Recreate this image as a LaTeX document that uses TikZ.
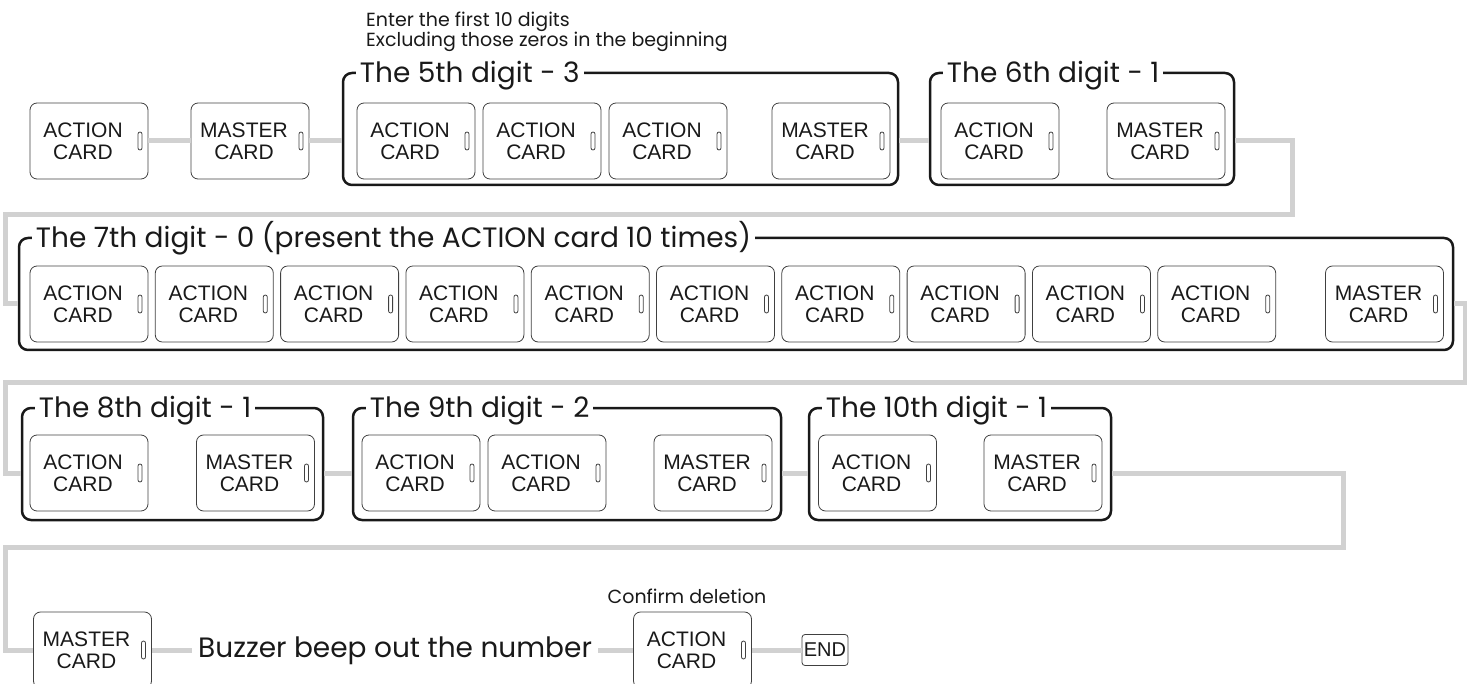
\documentclass[tikz,border=0pt]{standalone}
\usepackage{fontspec}
\setmainfont{Liberation Sans}
\newfontfamily\titlefont{Poppins}
\newcommand\cardpad{\makebox[12pt]{}}
\tikzset{
  card/.style={draw=black!75, line width=0.8pt, rounded corners=7pt,
    minimum width=118pt, minimum height=76pt, inner sep=0pt, align=center,
    text=black!90, font=\fontsize{21}{22}\selectfont,
    path picture={\draw[black!75, line width=0.8pt, rounded corners=2pt]
      ([xshift=-10pt,yshift=-9pt]path picture bounding box.east) rectangle
      ([xshift=-6pt,yshift=9pt]path picture bounding box.east);}},
  group/.style={draw=black!90, line width=2.5pt, rounded corners=9pt,
    minimum height=112pt, inner sep=0pt},
  title/.style={fill=white, inner sep=4pt, text=black!90, anchor=base west,
    font=\titlefont\fontsize{28}{30}\selectfont},
  note/.style={inner sep=0pt, text=black!90,
    font=\titlefont\fontsize{19}{20}\selectfont},
  link/.style={draw=black!18, line width=5pt},
  endbox/.style={draw=black!75, line width=0.8pt, rounded corners=3pt,
    minimum width=46pt, minimum height=31pt, inner sep=0pt,
    text=black!90, font=\fontsize{20}{22}\selectfont}
}
\begin{document}
\begin{tikzpicture}[x=1pt,y=-1pt]
  \clip (0,0) rectangle (1467,684);
  % groups
  \node[group, minimum width=555pt] (g5) at (620.5,129) {};
  \node[group, minimum width=304pt] (g6) at (1082,129) {};
  \node[group, minimum width=1434pt] (g7) at (736,294) {};
  \node[group, minimum width=301pt] (g8) at (172.5,464) {};
  \node[group, minimum width=428pt] (g9) at (567,464) {};
  \node[group, minimum width=302pt] (g10) at (960,464) {};
  \node[title] (t5) at ([xshift=14pt,yshift=-11pt]g5.north west) {The 5th digit - 3};
  \node[title] (t6) at ([xshift=14pt,yshift=-11pt]g6.north west) {The 6th digit - 1};
  \node[title] (t7) at ([xshift=14pt,yshift=-11pt]g7.north west) {The 7th digit - 0 (present the ACTION card 10 times)};
  \node[title] (t8) at ([xshift=14pt,yshift=-11pt]g8.north west) {The 8th digit - 1};
  \node[title] (t9) at ([xshift=14pt,yshift=-11pt]g9.north west) {The 9th digit - 2};
  \node[title] (t10) at ([xshift=14pt,yshift=-11pt]g10.north west) {The 10th digit - 1};
  \node[note, align=left, anchor=north west] (enter) at (366,12)
    {Enter the first 10 digits\\Excluding those zeros in the beginning};

  % row 1
  \node[card] (a0) at (89,141) {ACTION\cardpad\\CARD\cardpad};
  \node[card] (m0) at (250,141) {MASTER\cardpad\\CARD\cardpad};
  \node[card] (a1) at (416,141) {ACTION\cardpad\\CARD\cardpad};
  \node[card] (a2) at (542,141) {ACTION\cardpad\\CARD\cardpad};
  \node[card] (a3) at (668,141) {ACTION\cardpad\\CARD\cardpad};
  \node[card] (m1) at (831,141) {MASTER\cardpad\\CARD\cardpad};
  \node[card] (a4) at (1000,141) {ACTION\cardpad\\CARD\cardpad};
  \node[card] (m2) at (1166,141) {MASTER\cardpad\\CARD\cardpad};
  % row 2
  \foreach \i in {0,...,9}
    \node[card] (b\i) at (89+125.3*\i,304) {ACTION\cardpad\\CARD\cardpad};
  \node[card] (m3) at (1384.5,304) {MASTER\cardpad\\CARD\cardpad};
  % row 3
  \node[card] (a5) at (89,473) {ACTION\cardpad\\CARD\cardpad};
  \node[card] (m4) at (255.5,473) {MASTER\cardpad\\CARD\cardpad};
  \node[card] (a6) at (421,473) {ACTION\cardpad\\CARD\cardpad};
  \node[card] (a7) at (547,473) {ACTION\cardpad\\CARD\cardpad};
  \node[card] (m5) at (713,473) {MASTER\cardpad\\CARD\cardpad};
  \node[card] (a8) at (877.5,473) {ACTION\cardpad\\CARD\cardpad};
  \node[card] (m6) at (1043,473) {MASTER\cardpad\\CARD\cardpad};
  % row 4
  \node[card] (mf) at (92.5,650) {MASTER\cardpad\\CARD\cardpad};
  \node[note, inner sep=6pt, font=\titlefont\fontsize{28}{30}\selectfont,
    anchor=west] (buzz) at (192,651) {Buzzer beep out the number};
  \node[card] (af) at (692.5,650) {ACTION\cardpad\\CARD\cardpad};
  \node[note, anchor=base] (confirm) at (687,603) {Confirm deletion};
  \node[endbox] (end) at (825,650) {END};

  % links
  \coordinate (c1) at (1292,215);
  \coordinate (c2) at (5,304);
  \coordinate (c3) at (1465,383);
  \coordinate (c4) at (5,473);
  \coordinate (c5) at (1343,547);
  \coordinate (c6) at (5,650);
  \begin{scope}[link]
    \draw (a0) to (m0);
    \draw (m0.east) to (m0 -| g5.west);
    \draw (g5.east |- m1) to (g6.west |- a4);
    \draw (g6.east |- m2) -| (c1) -| (c2) -- (c2 -| g7.west);
    \draw (g7.east |- m3) -| (c3) -| (c4) -- (c4 -| g8.west);
    \draw (g8.east |- m4) to (g9.west |- a6);
    \draw (g9.east |- m5) to (g10.west |- a8);
    \draw (g10.east |- m6) -| (c5) -| (c6) -- (mf.west);
    \draw (mf.east) to (mf.east -| buzz.west);
    \draw (buzz.east |- af) to (af.west);
    \draw (af) to (end);
  \end{scope}
\end{tikzpicture}
\end{document}
